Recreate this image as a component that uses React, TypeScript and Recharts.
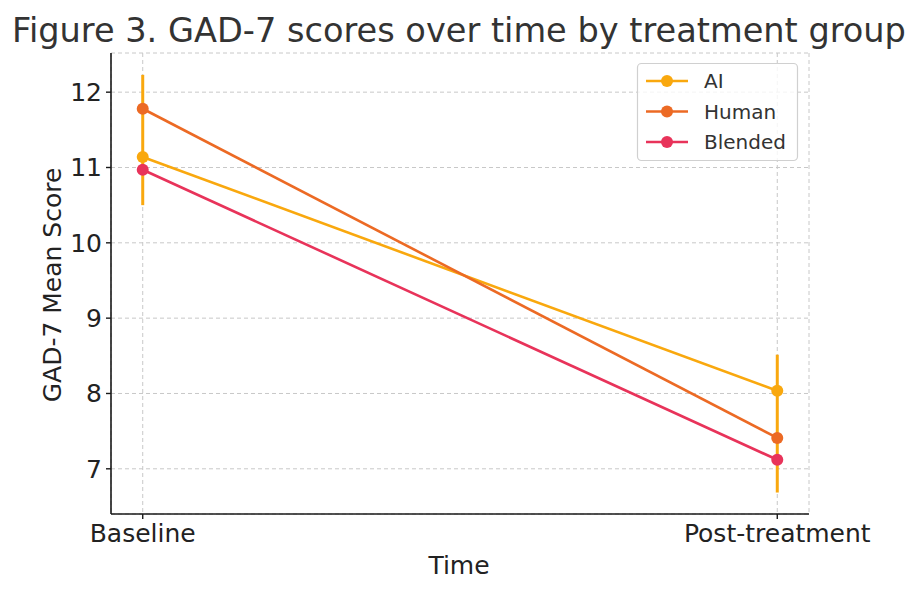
import React from 'react';
import {
  LineChart, Line, XAxis, YAxis, CartesianGrid, ErrorBar,
} from 'recharts';

const TIMES = ['Baseline', 'Post-treatment'];
const AI = [11.14, 8.035];
const HUMAN = [11.78, 7.41];
const BLENDED = [10.97, 7.12];
// asymmetric error bars for the AI group: [below, above]
const AI_ERR = [[0.64, 1.09], [1.35, 0.48]];
const Y_TICKS = [7, 8, 9, 10, 11, 12];

const SERIES = [
  { key: 'ai', name: 'AI', color: '#F9A80E' },
  { key: 'human', name: 'Human', color: '#EC6A24' },
  { key: 'blended', name: 'Blended', color: '#E8335A' },
];

const FONT = '"DejaVu Sans", sans-serif';
const W = 919;
const H = 594;

const data = TIMES.map((t, i) => ({
  x: i,
  label: t,
  ai: AI[i],
  aiErr: AI_ERR[i],
  human: HUMAN[i],
  blended: BLENDED[i],
}));

export default function App() {
  return (
    <div style={{ position: 'absolute', left: 0, top: 0, width: W, height: H, background: '#fff', fontFamily: FONT }}>
      <LineChart width={W} height={H} data={data} margin={{ top: 53, right: 110, bottom: 30, left: 41 }}>
        <CartesianGrid stroke="#c8c8c8" strokeDasharray="4 3" strokeWidth={1} />
        <XAxis
          dataKey="x"
          type="number"
          domain={[-0.05, 1.05]}
          ticks={[0, 1]}
          tickFormatter={(v: number) => TIMES[v]}
          height={50}
          tickSize={5}
          tickMargin={5}
          axisLine={{ stroke: '#1a1a1a', strokeWidth: 1.6 }}
          tickLine={{ stroke: '#1a1a1a', strokeWidth: 1.4 }}
          tick={{ fill: '#222', fontSize: 25, fontFamily: FONT }}
          allowDataOverflow
        />
        <YAxis
          type="number"
          domain={[6.4, 12.52]}
          ticks={Y_TICKS}
          width={70}
          tickSize={5}
          tickMargin={4}
          axisLine={{ stroke: '#1a1a1a', strokeWidth: 1.6 }}
          tickLine={{ stroke: '#1a1a1a', strokeWidth: 1.4 }}
          tick={{ fill: '#222', fontSize: 25, fontFamily: FONT }}
          allowDataOverflow
        />
        <Line
          dataKey="ai"
          name="AI"
          stroke={SERIES[0].color}
          strokeWidth={2.6}
          dot={{ r: 6, fill: SERIES[0].color, stroke: SERIES[0].color, strokeWidth: 0 }}
          isAnimationActive={false}
        >
          <ErrorBar dataKey="aiErr" direction="y" width={0} stroke={SERIES[0].color} strokeWidth={3} />
        </Line>
        <Line
          dataKey="human"
          name="Human"
          stroke={SERIES[1].color}
          strokeWidth={2.6}
          dot={{ r: 6, fill: SERIES[1].color, stroke: SERIES[1].color, strokeWidth: 0 }}
          isAnimationActive={false}
        />
        <Line
          dataKey="blended"
          name="Blended"
          stroke={SERIES[2].color}
          strokeWidth={2.6}
          dot={{ r: 6, fill: SERIES[2].color, stroke: SERIES[2].color, strokeWidth: 0 }}
          isAnimationActive={false}
        />
      </LineChart>

      <svg width={W} height={H} style={{ position: 'absolute', left: 0, top: 0, pointerEvents: 'none' }}>
        <text x={459} y={42} textAnchor="middle" fontSize={33.6} fill="#333" fontFamily={FONT}>
          Figure 3. GAD-7 scores over time by treatment group
        </text>
        <text x={459} y={573.5} textAnchor="middle" fontSize={25} fill="#222" fontFamily={FONT}>
          Time
        </text>
        <text
          x={61}
          y={285}
          textAnchor="middle"
          fontSize={25}
          fill="#222"
          fontFamily={FONT}
          transform="rotate(-90 61 285)"
        >
          GAD-7 Mean Score
        </text>

        {/* legend */}
        <rect x={637.5} y={63.5} width={160} height={97} rx={4} fill="#fff" fillOpacity={0.8} stroke="#d0d0d0" strokeWidth={1.2} />
        {SERIES.map((s, i) => {
          const cy = 81 + i * 30.5;
          return (
            <g key={s.key}>
              <line x1={646} x2={688} y1={cy} y2={cy} stroke={s.color} strokeWidth={2.6} />
              <circle cx={667} cy={cy} r={6} fill={s.color} />
              <text x={704} y={cy + 7.3} fontSize={20} fill="#333" fontFamily={FONT}>{s.name}</text>
            </g>
          );
        })}
      </svg>
    </div>
  );
}
